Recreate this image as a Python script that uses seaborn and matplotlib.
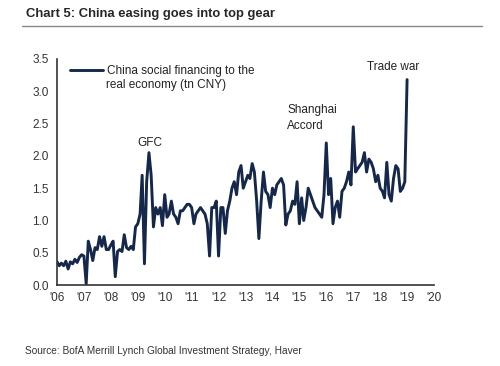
import pandas as pd
import numpy as np
import seaborn as sns
import matplotlib.pyplot as plt
import matplotlib.dates as mdates

# --- dati (tn CNY, mensili) ---
start_month = '2006-01-01'
y2006 = [0.36, 0.30, 0.34, 0.30, 0.37, 0.25, 0.36, 0.33, 0.40, 0.35, 0.43, 0.47]
y2007 = [0.45, 0.02, 0.68, 0.55, 0.38, 0.58, 0.55, 0.75, 0.60, 0.75, 0.55, 0.55]
y2008 = [0.62, 0.68, 0.13, 0.52, 0.55, 0.52, 0.78, 0.58, 0.55, 0.60, 0.55, 0.90]
y2009 = [0.95, 1.10, 1.70, 0.33, 1.60, 2.05, 1.70, 0.90, 1.20, 1.10, 1.20, 0.92]
y2010 = [1.40, 1.05, 1.10, 1.30, 1.10, 1.05, 0.95, 1.15, 1.15, 1.20, 1.25, 1.25]
y2011 = [1.20, 0.95, 1.10, 1.15, 1.20, 1.15, 1.10, 0.95, 0.45, 1.20, 1.20, 1.30]
y2012 = [0.45, 1.20, 1.20, 0.80, 1.15, 1.30, 1.50, 1.60, 1.40, 1.75, 1.85, 1.50]
y2013 = [1.60, 1.70, 1.65, 1.88, 1.75, 1.30, 0.72, 1.30, 1.75, 1.45, 1.40, 1.20]
y2014 = [1.50, 1.40, 1.55, 1.60, 1.65, 1.55, 0.93, 1.10, 1.15, 1.30, 1.25, 1.60]
y2015 = [0.95, 1.35, 1.00, 1.20, 1.50, 1.40, 1.30, 1.20, 1.15, 1.10, 1.05, 1.40]
y2016 = [2.20, 1.40, 1.65, 0.95, 1.20, 1.30, 1.05, 1.45, 1.50, 1.60, 1.75, 1.55]
y2017 = [2.45, 1.75, 1.80, 1.85, 1.90, 2.05, 1.75, 1.95, 1.90, 1.80, 1.60, 1.70]
y2018 = [1.50, 1.45, 1.35, 1.90, 1.40, 1.30, 1.65, 1.85, 1.80, 1.45, 1.50, 1.60]
y2019 = [3.18]

year_ticks = list(range(2006, 2021))
year_labels = ["'%02d" % (y % 100) for y in year_ticks]
y_ticks = [0.0, 0.5, 1.0, 1.5, 2.0, 2.5, 3.0, 3.5]

serie = (y2006 + y2007 + y2008 + y2009 + y2010 + y2011 + y2012 +
         y2013 + y2014 + y2015 + y2016 + y2017 + y2018 + y2019)
df = pd.DataFrame({
    'date': pd.date_range(start_month, periods=len(serie), freq='MS'),
    'tsf': serie,
})

# --- grafico ---
sns.set_style('white')
plt.rcParams['font.family'] = ['Liberation Sans', 'DejaVu Sans']

fig = plt.figure(figsize=(5.0, 3.66), dpi=100)
ax = fig.add_axes([0.114, 0.221, 0.754, 0.618])

navy = '#15284b'
sns.lineplot(data=df, x='date', y='tsf', ax=ax, color=navy, linewidth=2.1,
             label='China social financing to the')

ax.set_xlim(pd.Timestamp('2006-01-01'), pd.Timestamp('2020-01-01'))
ax.set_ylim(0, 3.5)
ax.set_xticks([pd.Timestamp('%d-01-01' % y) for y in year_ticks])
ax.set_xticklabels(year_labels)
ax.set_yticks(y_ticks)
ax.set_yticklabels(['%.1f' % v for v in y_ticks])
ax.set_xlabel('')
ax.set_ylabel('')

for s in ['top', 'right']:
    ax.spines[s].set_visible(False)
for s in ['left', 'bottom']:
    ax.spines[s].set_color('#333333')
    ax.spines[s].set_linewidth(1.2)
ax.tick_params(axis='x', direction='in', length=4, width=1.2, color='#333333',
               labelsize=8.5, labelcolor='#333333', pad=5)
ax.tick_params(axis='y', direction='out', length=4, width=1.2, color='#333333',
               labelsize=8.5, labelcolor='#333333', pad=2)

leg = ax.legend(loc='upper left', bbox_to_anchor=(0.022, 0.995), frameon=False,
                fontsize=8.5, handlelength=2.8, handletextpad=0.35,
                borderaxespad=0)
for t in leg.get_texts():
    t.set_color('#222222')
# seconda riga della legenda
ax.text(0.1305, 0.883, 'real economy (tn CNY)', transform=ax.transAxes,
        ha='left', va='center', fontsize=8.5, color='#222222')

# annotazioni
ax.text(pd.Timestamp('2009-06-15'), 2.2, 'GFC', ha='center', va='center',
        fontsize=8.5, color='#222222')
ax.text(pd.Timestamp('2014-07-20'), 2.58, 'Shanghai\nAccord', ha='left',
        va='center', fontsize=8.5, color='#222222', linespacing=1.45)
ax.text(pd.Timestamp('2017-07-10'), 3.38, 'Trade war', ha='left',
        va='center', fontsize=8.5, color='#222222')

# titolo, linea e fonte
fig.text(0.052, 0.962, 'Chart 5: China easing goes into top gear',
         fontsize=9.4, fontweight='bold', ha='left', va='center')
fig.add_artist(plt.Line2D([0.044, 0.964], [0.928, 0.928], color='#888888',
                          linewidth=1.0, transform=fig.transFigure))
fig.text(0.05, 0.04, 'Source: BofA Merrill Lynch Global Investment Strategy, Haver',
         fontsize=7.3, ha='left', va='center', color='#333333')

fig.savefig('out.png', dpi=100)
